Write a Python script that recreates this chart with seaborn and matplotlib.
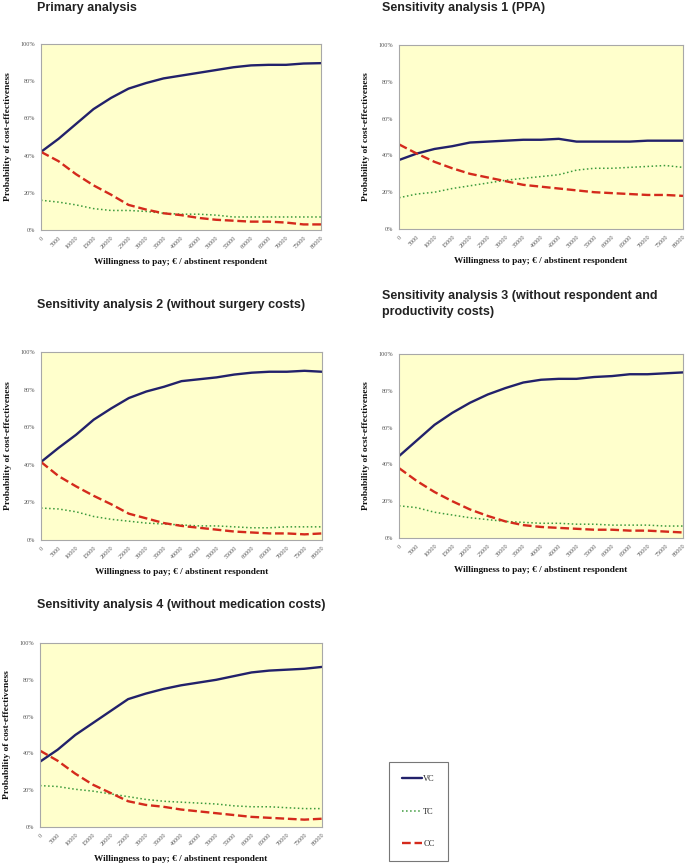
import numpy as np
import pandas as pd
import matplotlib
matplotlib.use("Agg")
import matplotlib.pyplot as plt
import seaborn as sns

sns.set_theme(style="white")

wtp = [0, 5000, 10000, 15000, 20000, 25000, 30000, 35000, 40000, 45000,
       50000, 55000, 60000, 65000, 70000, 75000, 80000]

titles = [
    "Primary analysis",
    "Sensitivity analysis 1 (PPA)",
    "Sensitivity analysis 2 (without surgery costs)",
    "Sensitivity analysis 3 (without respondent and\nproductivity costs)",
    "Sensitivity analysis 4 (without medication costs)",
]
ylabels = [
    "Probability of cost-effectiveness",
    "Probability of cost-effectiveness",
    "Probability of cost-effectiveness",
    "Probability of ocst-effectiveness",
    "Probability of cost-effectiveness",
]
xlabel = "Willingness to pay; \u20ac / abstinent respondent"

# Primary analysis
p0_vc = [42, 49, 57, 65, 71, 76, 79, 81.5, 83, 84.5, 86, 87.5, 88.5, 88.8, 88.8, 89.5, 89.7]
p0_tc = [16, 15, 13.5, 11.5, 10.5, 10.5, 10, 9, 8.5, 8.5, 8, 7, 7, 7, 7, 7, 7]
p0_cc = [42, 37, 30, 24, 19, 13.5, 11, 9, 8, 6.5, 5.5, 5, 4.5, 4.5, 4, 3, 3]
# Sensitivity analysis 1 (PPA)
p1_vc = [37.5, 41, 43.5, 45, 47, 47.5, 48, 48.5, 48.5, 49, 47.5, 47.5, 47.5, 47.5, 48, 48, 48]
p1_tc = [17, 19, 20, 22, 23.5, 25, 26.5, 27.5, 28.5, 29.5, 32, 33, 33, 33.5, 34, 34.5, 33.5]
p1_cc = [46, 41, 36.5, 33, 30, 28, 26, 24, 23, 22, 21, 20, 19.5, 19, 18.5, 18.5, 18]
# Sensitivity analysis 2
p2_vc = [41.5, 49, 56, 64, 70, 75.5, 79, 81.5, 84.5, 85.5, 86.5, 88, 89, 89.5, 89.5, 90, 89.5]
p2_tc = [17, 16.5, 15, 12.5, 11, 10, 9, 8.5, 8, 7.5, 7.5, 7, 6.5, 6.5, 7, 7, 7]
p2_cc = [41.5, 34, 28.5, 23.5, 19, 14, 11.5, 9, 7.5, 6.5, 5.5, 4.5, 4, 3.5, 3.5, 3, 3.5]
# Sensitivity analysis 3
p3_vc = [44.5, 53, 61.5, 68, 73.5, 78, 81.5, 84.5, 86, 86.5, 86.5, 87.5, 88, 89, 89, 89.5, 90]
p3_tc = [17.5, 16.5, 14, 12.5, 11, 10, 9, 8.5, 8, 8, 7.5, 7.5, 7, 7, 7, 6.5, 6.5]
p3_cc = [38, 31, 25, 20, 15.5, 12, 9, 7, 6, 5.5, 5, 4.5, 4.5, 4, 4, 3.5, 3]
# Sensitivity analysis 4
p4_vc = [35.5, 42, 50, 56.5, 63, 69.5, 72.5, 75, 77, 78.5, 80, 82, 84, 85, 85.5, 86, 87]
p4_tc = [22.5, 22, 20.5, 19.5, 18, 16.5, 15, 14, 13.5, 13, 12.5, 11.5, 11, 11, 10.5, 10, 10]
p4_cc = [41.5, 36, 29, 23, 18.5, 14, 12, 11, 9.5, 8.5, 7.5, 6.5, 5.5, 5, 4.5, 4, 4.5]

panels = [(p0_vc, p0_tc, p0_cc), (p1_vc, p1_tc, p1_cc), (p2_vc, p2_tc, p2_cc),
          (p3_vc, p3_tc, p3_cc), (p4_vc, p4_tc, p4_cc)]

series_names = ["VC", "TC", "CC"]
colors = {"VC": "#22216a", "TC": "#3c9a3c", "CC": "#d42a1c"}
styles = {"VC": "-", "TC": ":", "CC": "--"}
widths = {"VC": 1.7, "TC": 1.1, "CC": 1.7}

W, H = 688, 866
fig = plt.figure(figsize=(W / 100, H / 100), dpi=100)

# axes boxes in pixels: left, top, right, bottom
boxes = [
    (41, 44, 321, 230),
    (399, 45, 683, 229),
    (41, 352, 322, 540),
    (399, 354, 683, 538),
    (40, 643, 322, 827),
]
title_pos = [(37, 8), (382, 8), (37, 305), (382, 304), (37, 605)]

serif = ["Liberation Serif", "DejaVu Serif"]
sans = ["Liberation Sans", "DejaVu Sans"]

handles = None
for i, (vals, box) in enumerate(zip(panels, boxes)):
    l, t, r, b = box
    ax = fig.add_axes([l / W, 1 - b / H, (r - l) / W, (b - t) / H])
    ax.set_facecolor("#ffffcc")
    rows = []
    for name, v in zip(series_names, vals):
        for x, y in zip(wtp, v):
            rows.append({"wtp": x, "p": y / 100.0, "series": name})
    df = pd.DataFrame(rows)
    for name in series_names:
        sub = df[df["series"] == name]
        sns.lineplot(data=sub, x="wtp", y="p", ax=ax, color=colors[name],
                     linestyle=styles[name], linewidth=widths[name], label=name,
                     legend=False)
    ax.set_xlim(0, 80000)
    ax.set_ylim(0, 1)
    ax.set_xticks(wtp)
    ax.set_xticklabels([str(x) for x in wtp], rotation=45, ha="right",
                       rotation_mode="anchor", fontsize=4.4, color="#555555",
                       family=serif)
    ax.set_yticks([0, 0.2, 0.4, 0.6, 0.8, 1.0])
    ax.set_yticklabels(["0%", "20%", "40%", "60%", "80%", "100%"], fontsize=4.4,
                       color="#555555", family=serif)
    ax.tick_params(axis="both", length=2, width=0.5, color="#999999", pad=2)
    for s in ax.spines.values():
        s.set_color("#a8a8a8")
        s.set_linewidth(0.8)
    ax.set_xlabel(xlabel, fontsize=6.7, fontweight="bold", family=serif,
                  labelpad=6, color="#111111")
    ax.set_ylabel(ylabels[i], fontsize=6.8, fontweight="bold", family=serif,
                  labelpad=6, color="#111111")
    tx, ty = title_pos[i]
    fig.text(tx / W, 1 - ty / H, titles[i], fontsize=9, fontweight="bold",
             family=sans, ha="left", va="center", color="#222222",
             linespacing=1.45)
    if handles is None:
        handles = ax.get_lines()[:3]

leg = fig.legend(handles, series_names, loc="upper left",
                 bbox_to_anchor=(389 / W, 1 - 762 / H), frameon=True,
                 fancybox=False, edgecolor="#777777", framealpha=1,
                 prop={"family": serif, "size": 6}, handlelength=2.4,
                 handletextpad=0.1, labelspacing=2.9, borderpad=1.6,
                 borderaxespad=0)
leg.get_frame().set_linewidth(0.8)

fig.savefig("out.png", dpi=100, facecolor="white")
